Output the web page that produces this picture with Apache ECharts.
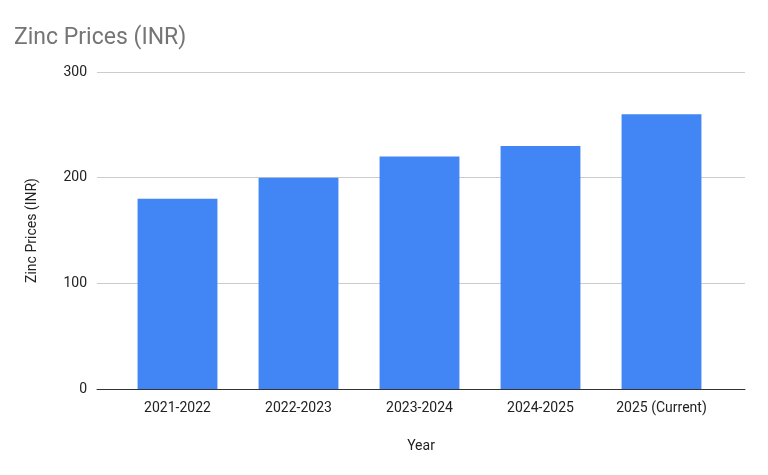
<!DOCTYPE html>
<html><head><meta charset="utf-8">
<script src="https://cdn.jsdelivr.net/npm/echarts@6/dist/echarts.min.js"></script>
<style>html,body{margin:0;padding:0;background:#fff}#c{width:768px;height:475px}</style>
</head><body><div id="c"></div>
<script>
const categories = ["2021-2022","2022-2023","2023-2024","2024-2025","2025 (Current)"];
const prices = [180, 200, 220, 230, 260];
const yTicks = {min:0, max:300, interval:100};
const chart = echarts.init(document.getElementById('c'));
const font = {fontFamily:'Roboto',fontSize:14,color:'#222'};
chart.setOption({
  animation:false,
  title:{text:'Zinc Prices (INR)',left:9,top:22,textStyle:{fontFamily:'Roboto',fontSize:23,fontWeight:'normal',color:'#757575'}},
  grid:[{left:97,right:23,top:72,bottom:86},{left:117,right:46,top:72,bottom:86}],
  xAxis:[
    {gridIndex:0,type:'category',data:[''],axisTick:{show:false},axisLabel:{show:false},
     axisLine:{lineStyle:{color:'#333'}},name:'Year',nameLocation:'middle',nameGap:50,nameTextStyle:font},
    {gridIndex:1,type:'category',data:categories,axisTick:{show:false},axisLine:{show:false},
     axisLabel:Object.assign({margin:12},font)}
  ],
  yAxis:[
    {gridIndex:0,type:'value',min:yTicks.min,max:yTicks.max,interval:yTicks.interval,
     name:'Zinc Prices (INR)',nameLocation:'middle',nameGap:58,nameTextStyle:font,
     axisLabel:Object.assign({margin:10},font),splitLine:{lineStyle:{color:'#ccc'}}},
    {gridIndex:1,type:'value',min:yTicks.min,max:yTicks.max,interval:yTicks.interval,
     axisLabel:{show:false},splitLine:{show:false},axisLine:{show:false}}
  ],
  series:[{type:'bar',xAxisIndex:1,yAxisIndex:1,data:prices,barCategoryGap:'34%',itemStyle:{color:'#4285f4'}}]
});
</script></body></html>
